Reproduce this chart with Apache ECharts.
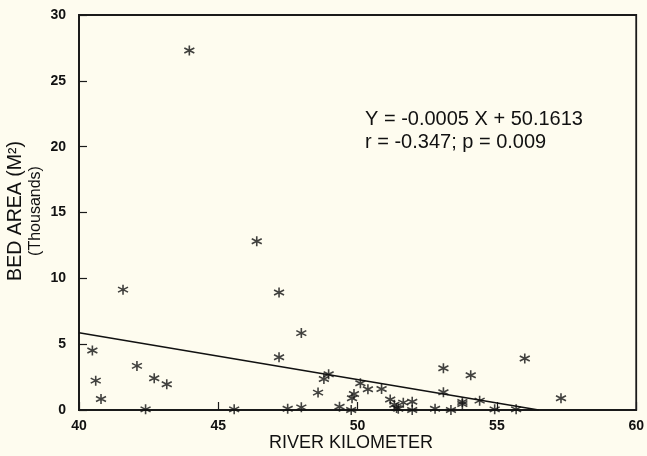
<!DOCTYPE html>
<html>
<head>
<meta charset="utf-8">
<script src="https://cdn.jsdelivr.net/npm/echarts@6/dist/echarts.min.js"></script>
<style>
html,body{margin:0;padding:0;background:#fefcef;}
#chart{width:647px;height:456px;}
</style>
</head>
<body>
<div id="chart"></div>
<script>
// River kilometer (x) and bed area in thousands of m² (y)
var riverKm = [40.48,40.60,40.79,41.58,42.08,42.39,42.70,43.15,43.96,45.57,46.38,47.18,47.18,47.49,47.98,47.98,48.58,48.79,48.96,49.35,49.77,49.80,49.87,50.10,50.37,50.86,51.17,51.32,51.40,51.46,51.64,51.96,51.96,52.78,53.08,53.08,53.35,53.76,53.76,54.06,54.38,54.92,55.69,56.00,57.30];
var bedArea = [4.52,2.23,0.84,9.14,3.35,0.05,2.41,1.96,27.3,0.05,12.82,8.93,4.01,0.10,5.84,0.20,1.32,2.36,2.72,0.25,0.00,0.89,1.22,2.03,1.57,1.60,0.80,0.40,0.15,0.10,0.56,0.62,0.00,0.10,3.17,1.35,0.00,0.61,0.45,2.64,0.71,0.05,0.05,3.91,0.89];
// Regression line end points
var fitX = [40, 56.5];
var fitY = [5.87, 0];
// Axis ticks
var xTicks = [40, 45, 50, 55, 60];
var yTicks = [0, 5, 10, 15, 20, 25, 30];
var eqLine1 = 'Y = -0.0005 X + 50.1613';
var eqLine2 = 'r = -0.347; p = 0.009';

var pts = riverKm.map(function(x, i){ return [x, bedArea[i]]; });
var fit = fitX.map(function(x, i){ return [x, fitY[i]]; });

var star = 'path://M0,-5L0,5M-4.33,-2.5L4.33,2.5M-4.33,2.5L4.33,-2.5';
var font = '"Liberation Sans", Arial, Helvetica, sans-serif';

var chart = echarts.init(document.getElementById('chart'), null, {renderer:'canvas'});
chart.setOption({
  backgroundColor: '#fefcef',
  animation: false,
  grid: {left: 79, right: 8, top: 15, bottom: 46, show: true, borderColor: '#1a1a1a', borderWidth: 1.8, backgroundColor: 'transparent'},
  xAxis: {
    type: 'value', min: xTicks[0], max: xTicks[xTicks.length-1], interval: 5,
    axisLine: {show: true, onZero: false, lineStyle: {color: '#1a1a1a', width: 1.8}},
    axisTick: {show: true, inside: true, length: 8, lineStyle: {color: '#1a1a1a', width: 1.2}},
    splitLine: {show: false},
    axisLabel: {color: '#111', fontFamily: font, fontWeight: 'bold', fontSize: 14, margin: 9}
  },
  yAxis: {
    type: 'value', min: yTicks[0], max: yTicks[yTicks.length-1], interval: 5,
    axisLine: {show: true, lineStyle: {color: '#1a1a1a', width: 1.8}},
    axisTick: {show: true, inside: true, length: 8, lineStyle: {color: '#1a1a1a', width: 1.2}},
    splitLine: {show: false},
    axisLabel: {color: '#111', fontFamily: font, fontWeight: 'bold', fontSize: 14, margin: 13}
  },
  graphic: [
    {type: 'text', x: 15.5, y: 211, rotation: Math.PI/2,
     style: {text: 'BED AREA (M²)', fill: '#111', font: '19.5px ' + font, align: 'center', verticalAlign: 'middle'}},
    {type: 'text', x: 36, y: 211, rotation: Math.PI/2,
     style: {text: '(Thousands)', fill: '#111', font: '16px ' + font, align: 'center', verticalAlign: 'middle'}},
    {type: 'text', x: 365, y: 119,
     style: {text: eqLine1, fill: '#111', font: '20px ' + font, align: 'left', verticalAlign: 'middle'}},
    {type: 'text', x: 365, y: 142.5,
     style: {text: eqLine2, fill: '#111', font: '20px ' + font, align: 'left', verticalAlign: 'middle'}},
    {type: 'text', x: 351, y: 443,
     style: {text: 'RIVER KILOMETER', fill: '#111', font: '18px ' + font, align: 'center', verticalAlign: 'middle'}}
  ],
  series: [
    {type: 'scatter', data: pts, symbol: star, symbolSize: 10,
     itemStyle: {color: 'rgba(0,0,0,0)', borderColor: '#111', borderWidth: 1.6}},
    {type: 'line', data: fit, showSymbol: false, symbol: 'none',
     lineStyle: {color: '#111', width: 1.6}}
  ]
});
</script>
</body>
</html>
